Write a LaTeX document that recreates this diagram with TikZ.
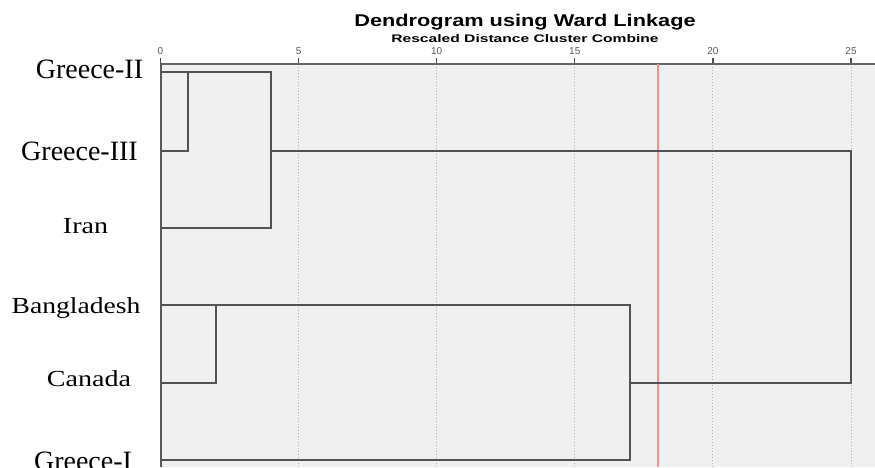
\documentclass[tikz,border=0pt]{standalone}
\usepackage{fontspec}
\setmainfont{Liberation Serif}
\newfontfamily\arialfont{Liberation Sans}
\begin{document}
\begin{tikzpicture}[x=1pt,y=-1pt,
  dline/.style={draw=black!68, line width=1.9pt, line join=miter},
  grid/.style={draw=black!30, line width=1pt, dotted},
  biglab/.style={anchor=base, inner sep=0pt, font=\fontsize{28}{30}\selectfont},
  smalllab/.style={anchor=base, inner sep=0pt, font=\fontsize{23}{25}\selectfont},
  tlab/.style={inner sep=0pt, text=black!65, font=\arialfont\fontsize{10}{11}\selectfont},
  ttl/.style={inner sep=0pt, font=\arialfont\bfseries\fontsize{17}{19}\selectfont},
  subttl/.style={inner sep=0pt, font=\arialfont\bfseries\fontsize{11}{12}\selectfont}
]
\useasboundingbox (0,0) rectangle (875,467);
\fill[white] (0,0) rectangle (875,467);
% plot area
\fill[black!6] (161,64) rectangle (875,467);
% grid lines
\foreach \v/\n in {5/g5,10/g10,15/g15,20/g20,25/g25}{
  \coordinate (\n t) at ({160.5+27.62*\v},64);
  \coordinate (\n b) at ({160.5+27.62*\v},467);
  \draw[grid] (\n t) -- (\n b);
}
% tick marks and labels
\foreach \v in {0,5,10,15,20,25}{
  \coordinate (tk\v) at ({160.5+27.62*\v},64);
  \coordinate (tu\v) at ({160.5+27.62*\v},58);
  \draw[black!70, line width=1.2pt] (tk\v) -- (tu\v);
  \node[tlab] (tl\v) at ({160.5+27.62*\v},51) {\v};
}
% axes
\coordinate (axl) at (161,64);
\coordinate (axr) at (875,64);
\coordinate (axb) at (161,467);
\draw[black!60, line width=1.8pt] (axl) -- (axr);
\draw[black!65, line width=1.8pt] (axl) -- (axb);
% cut line
\coordinate (cut t) at ({160.5+27.62*18},64);
\coordinate (cut b) at ({160.5+27.62*18},467);
\draw[red!45, line width=2.2pt] (cut t) -- (cut b);
% titles
\node[ttl] (title) at (525,22) {\scalebox{1.28}[1]{Dendrogram using Ward Linkage}};
\node[subttl] (subtitle) at (525,39) {\scalebox{1.42}[1]{Rescaled Distance Cluster Combine}};
% labels
\node[biglab] (lab1) at (89.5,78) {Greece-II};
\node[biglab] (lab2) at (79.5,160) {Greece-III};
\node[smalllab] (lab3) at (85.5,233) {\scalebox{1.22}[1]{Iran}};
\node[smalllab] (lab4) at (76,313) {\scalebox{1.2}[1]{Bangladesh}};
\node[smalllab] (lab5) at (89,386) {\scalebox{1.22}[1]{Canada}};
\node[biglab] (lab6) at (83,470) {Greece-I};
% leaves
\coordinate (l1) at (161,72);
\coordinate (l2) at (161,151);
\coordinate (l3) at (161,228);
\coordinate (l4) at (161,305);
\coordinate (l5) at (161,383);
\coordinate (l6) at (161,460);
% merges
\coordinate (m1a) at (188,72);
\coordinate (m1b) at (188,151);
\coordinate (m2a) at (271,72);
\coordinate (m2b) at (271,228);
\coordinate (m2o) at (271,151);
\coordinate (m3a) at (216,305);
\coordinate (m3b) at (216,383);
\coordinate (m4a) at (630,305);
\coordinate (m4b) at (630,460);
\coordinate (m4o) at (630,383);
\coordinate (m5a) at (851,151);
\coordinate (m5b) at (851,383);
\draw[dline] (l2) -- (m1b) -- (m1a);
\draw[dline] (l1) -- (m2a) -- (m2b) -- (l3);
\draw[dline] (l5) -- (m3b) -- (m3a);
\draw[dline] (l4) -- (m4a) -- (m4b) -- (l6);
\draw[dline] (m2o) -- (m5a) -- (m5b) -- (m4o);
\end{tikzpicture}
\end{document}
